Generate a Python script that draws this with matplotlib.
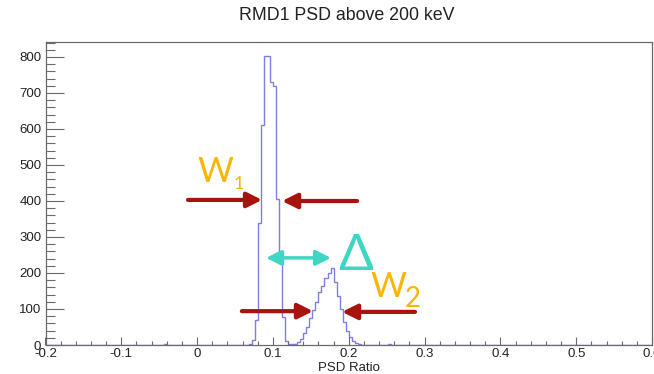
import numpy as np
import matplotlib
matplotlib.use("Agg")
import matplotlib.pyplot as plt
from matplotlib.ticker import MultipleLocator, FuncFormatter

# histogram: 200 bins of 0.004 between -0.2 and 0.6, counts
x_lo, x_hi, n_bins = -0.2, 0.6, 200
main_start = 0.064
main_counts = [0, 3, 15, 70, 339, 611, 803, 803, 730, 720, 405, 228, 79, 10,
               3, 2, 4, 8, 16, 32, 50, 75, 98, 120, 148, 165, 185, 200, 215,
               175, 135, 100, 65, 40, 22, 12, 5, 2, 1]
blip_x = [-0.044, 0.224, 0.252]
blip_counts = [2, 1, 2]

title = "RMD1 PSD above 200 keV"
x_title = "PSD Ratio"

# annotation arrows (x0, x1, y) in data units
red_arrows = [(-0.012, 0.0857, 403), (0.211, 0.112, 400),
              (0.059, 0.1529, 94), (0.2874, 0.1911, 92)]
delta_arrow = (0.0909, 0.1766, 242)

hist_color = "#7f7fdf"
red = "#a8120f"
cyan = "#3fd6c3"
orange = "#f9b606"

edges = np.linspace(x_lo, x_hi, n_bins + 1)
counts = np.zeros(n_bins)
i0 = int(round((main_start - x_lo) / 0.004))
counts[i0:i0 + len(main_counts)] = main_counts
for bx, bc in zip(blip_x, blip_counts):
    counts[int((bx - x_lo) / 0.004)] = bc

plt.rcParams['font.family'] = ['Liberation Sans', 'DejaVu Sans']
plt.rcParams['axes.unicode_minus'] = False

fig = plt.figure(figsize=(6.54, 3.74), dpi=100)
ax = fig.add_axes([45.5 / 654, 1 - 345 / 374, 606.5 / 654, 303.5 / 374])

ax.stairs(counts, edges, color=hist_color, lw=1.0)

ax.set_xlim(x_lo, x_hi)
ax.set_ylim(0, 843)

for s in ax.spines.values():
    s.set_color("#6a6a6a")
    s.set_linewidth(0.9)

ax.xaxis.set_major_locator(MultipleLocator(0.1))
ax.xaxis.set_minor_locator(MultipleLocator(0.02))
ax.yaxis.set_major_locator(MultipleLocator(100))
ax.yaxis.set_minor_locator(MultipleLocator(20))
ax.xaxis.set_major_formatter(FuncFormatter(lambda v, p: "%g" % round(v, 2)))
ax.tick_params(axis='x', which='major', direction='in', length=6, width=0.8,
               color="#6a6a6a", pad=2.5, labelsize=9.5, labelcolor="#222222")
ax.tick_params(axis='x', which='minor', direction='in', length=3, width=0.8,
               color="#6a6a6a")
ax.tick_params(axis='y', which='major', direction='in', length=13, width=0.8,
               color="#6a6a6a", pad=3, labelsize=9.5, labelcolor="#222222")
ax.tick_params(axis='y', which='minor', direction='in', length=6.5, width=0.8,
               color="#6a6a6a")

ax.set_xlabel(x_title, fontsize=9.5, color="#222222", labelpad=1)
fig.text(347 / 654, 1 - 16 / 374, title, ha='center', va='center',
         fontsize=12.8, color="#222222")

# arrows
for x0, x1, y in red_arrows:
    ax.annotate("", xy=(x1, y), xytext=(x0, y),
                arrowprops=dict(arrowstyle="-|>,head_length=0.9,head_width=0.45",
                                color=red, lw=3, shrinkA=0, shrinkB=0,
                                mutation_scale=10))
ax.annotate("", xy=(delta_arrow[1], delta_arrow[2]),
            xytext=(delta_arrow[0], delta_arrow[2]),
            arrowprops=dict(arrowstyle="<|-|>,head_length=0.9,head_width=0.45",
                            color=cyan, lw=2.5, shrinkA=0, shrinkB=0,
                            mutation_scale=10))

lab = dict(family=['Lato', 'DejaVu Sans'], fontweight='normal')
ax.text(0.0242, 453, "W", color=orange, fontsize=25, ha='center', va='baseline', **lab)
ax.text(0.0546, 433, "1", color=orange, fontsize=13, ha='center', va='baseline', **lab)
ax.text(0.2096, 208, "\u0394", color=cyan, fontsize=37, ha='center', va='baseline', **lab)
ax.text(0.2518, 133, "W", color=orange, fontsize=25, ha='center', va='baseline', **lab)
ax.text(0.2848, 106, "2", color=orange, fontsize=20, ha='center', va='baseline', **lab)

plt.savefig("out.png", dpi=100)
